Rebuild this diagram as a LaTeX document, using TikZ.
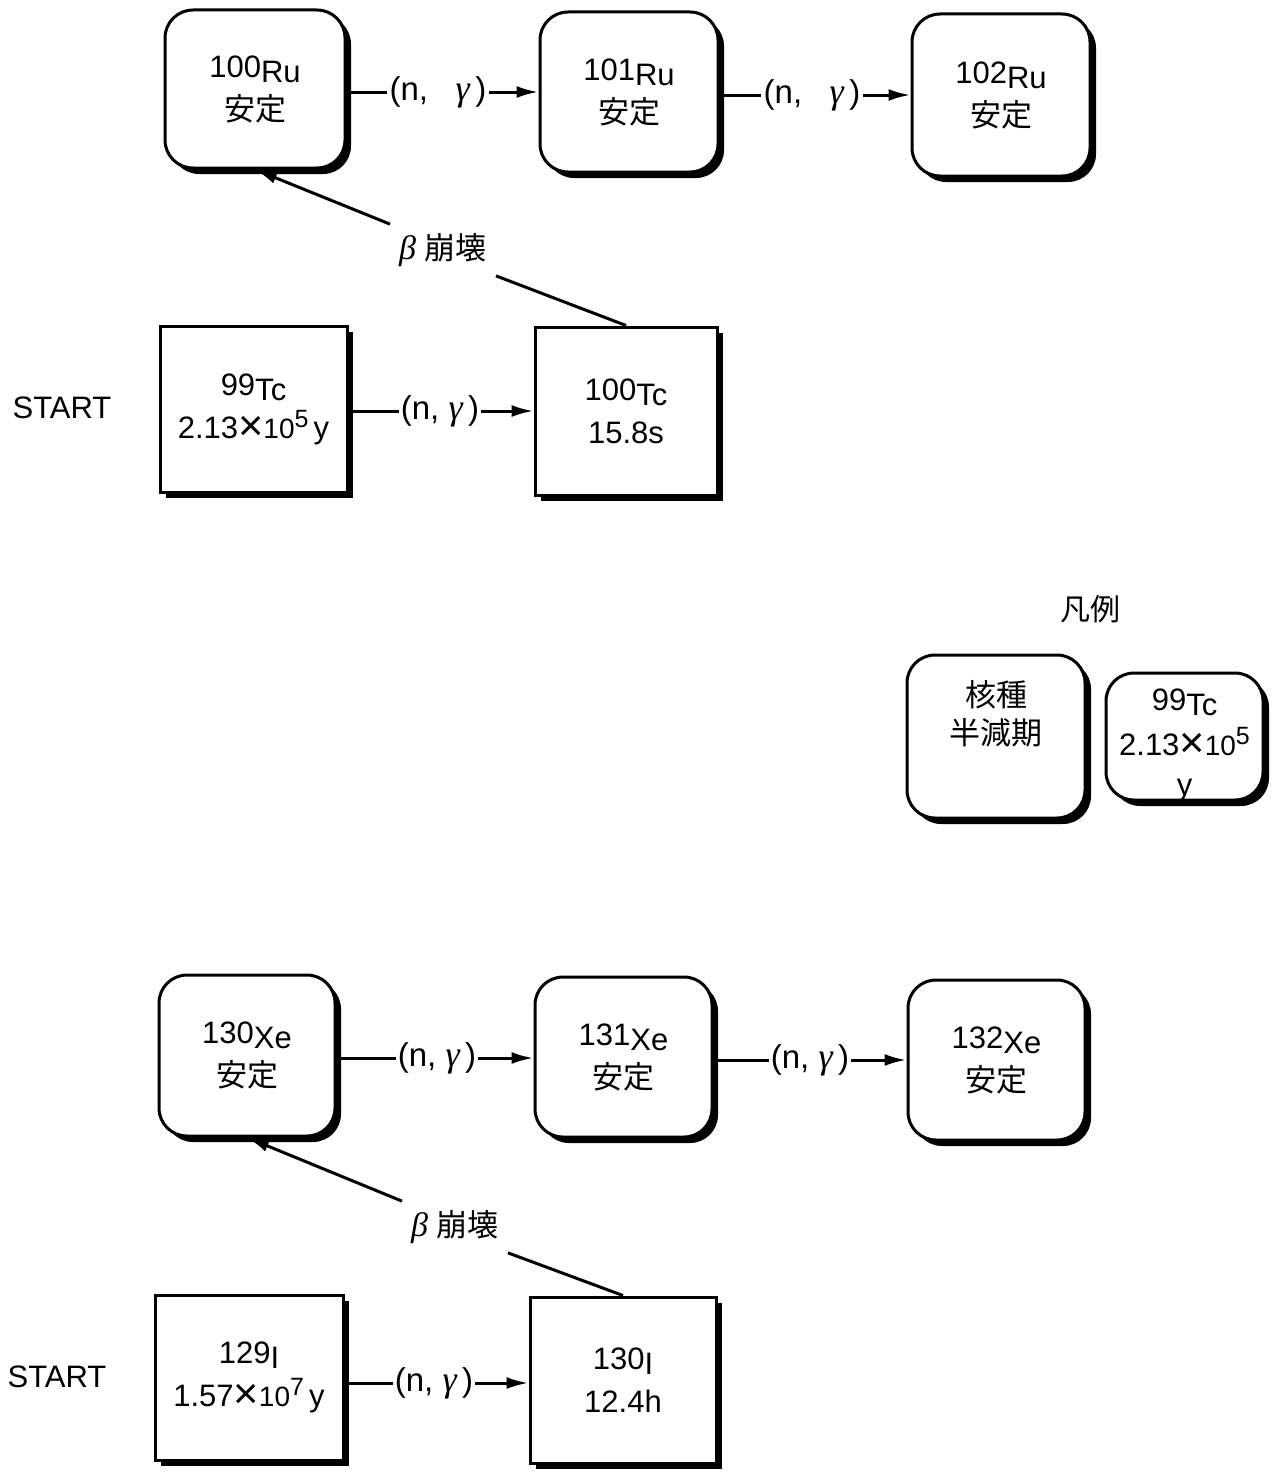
\documentclass[tikz,border=0pt]{standalone}
\usepackage{fontspec}
\setmainfont{Liberation Sans}
\newfontfamily\jp{Noto Sans CJK JP}
\newfontfamily\gk{Liberation Serif}
\usetikzlibrary{arrows.meta,shadows}
\newcommand\isot[2]{\raisebox{5pt}{#1}#2}
\newcommand\tms{\raisebox{-2pt}{\scalebox{1.4}{×}}}
\newcommand\tenp[1]{{\fontsize{28}{38}\selectfont 10\raisebox{11pt}{\fontsize{25}{30}\selectfont #1}}}
\newcommand\gam{{\gk\itshape\fontsize{36}{38}\selectfont γ}}
\newcommand\bet{{\gk\itshape\fontsize{34}{38}\selectfont β}}
\begin{document}
\begin{tikzpicture}[x=1pt,y=-1pt,
  base/.style={draw, line width=3pt, fill=white, align=center,
    font=\fontsize{31}{38}\selectfont, inner sep=0pt,
    drop shadow={shadow xshift=6pt, shadow yshift=-6pt, fill=black, opacity=1}},
  rbox/.style={base, rounded corners=28pt},
  sbox/.style={base},
  rxn/.style={font=\fontsize{33}{38}\selectfont, inner sep=2pt},
  txt/.style={font=\fontsize{31}{38}\selectfont},
  conn/.style={line width=3pt},
  arr/.style={conn, -{Latex[length=22pt,width=12pt]}},
  beta/.style={font=\fontsize{31}{38}\selectfont, inner sep=9pt}]
\useasboundingbox (0,0) rectangle (1274,1472);
\fill[white] (0,0) rectangle (1274,1472);

% --- Ru / Tc chain ---
\node[rbox, minimum width=180pt, minimum height=158pt] (ru100) at (255,89) {\isot{100}{Ru}\\{\jp 安定}};
\node[rbox, minimum width=178pt, minimum height=160pt] (ru101) at (629,92) {\isot{101}{Ru}\\{\jp 安定}};
\node[rbox, minimum width=178pt, minimum height=162pt] (ru102) at (1001,95) {\isot{102}{Ru}\\{\jp 安定}};
\node[sbox, minimum width=187pt, minimum height=166pt] (tc99) at (253.5,409) {\isot{99}{Tc}\\2.13\tms\tenp{5}\,y};
\node[sbox, minimum width=182pt, minimum height=168pt] (tc100) at (626,411) {\isot{100}{Tc}\\15.8s};
\node[txt] (start1) at (62,408) {START};

\node[rxn] (r1) at (438,92) {(n,\ \ \ \gam\,)};
\node[rxn] (r2) at (812,95) {(n,\ \ \ \gam\,)};
\node[rxn] (r3) at (440,411) {(n,\ \gam\,)};
\draw[conn] (r1.west -| ru100.east) -- (r1.west);
\draw[arr] (r1.east) -- (r1.east -| ru101.west);
\draw[conn] (r2.west -| ru101.east) -- (r2.west);
\draw[arr] (r2.east) -- (r2.east -| ru102.west);
\draw[conn] (r3.west -| tc99.east) -- (r3.west);
\draw[arr] (r3.east) -- (r3.east -| tc100.west);

\node[beta] (b1) at (443,250) {\bet\ {\jp 崩壊}};
\draw[arr] (b1.north west) -- (ru100.south);
\draw[conn] (b1.south east) -- (tc100.north);

% --- legend ---
\node[font=\fontsize{30}{36}\selectfont\jp] (hanrei) at (1090,609) {凡例};
\node[rbox, minimum width=178pt, minimum height=163pt] (leg1) at (996,736.5) {};
\node[font=\fontsize{31}{38}\selectfont\jp, align=center] (leg1t) at (996,714) {核種\\半減期};
\node[rbox, minimum width=157pt, minimum height=127pt] (leg2) at (1184.5,736.5) {};
\node[font=\fontsize{31}{40}\selectfont, align=center] (leg2t) at (1184.5,745) {\isot{99}{Tc}\\2.13\tms\tenp{5}\\y};

% --- Xe / I chain ---
\node[rbox, minimum width=176pt, minimum height=161pt] (xe130) at (247,1055.5) {\isot{130}{Xe}\\{\jp 安定}};
\node[rbox, minimum width=177pt, minimum height=160pt] (xe131) at (623.5,1057) {\isot{131}{Xe}\\{\jp 安定}};
\node[rbox, minimum width=177pt, minimum height=160pt] (xe132) at (996.5,1060) {\isot{132}{Xe}\\{\jp 安定}};
\node[sbox, minimum width=188pt, minimum height=165pt] (i129) at (249,1377.5) {\isot{129}{I}\\1.57\tms\tenp{7}\,y};
\node[sbox, minimum width=186pt, minimum height=166pt] (i130) at (623,1380) {\isot{130}{I}\\12.4h};
\node[txt] (start2) at (57,1377) {START};

\node[rxn] (r4) at (437,1058) {(n,\ \gam\,)};
\node[rxn] (r5) at (810,1060) {(n,\ \gam\,)};
\node[rxn] (r6) at (434,1383) {(n,\ \gam\,)};
\draw[conn] (r4.west -| xe130.east) -- (r4.west);
\draw[arr] (r4.east) -- (r4.east -| xe131.west);
\draw[conn] (r5.west -| xe131.east) -- (r5.west);
\draw[arr] (r5.east) -- (r5.east -| xe132.west);
\draw[conn] (r6.west -| i129.east) -- (r6.west);
\draw[arr] (r6.east) -- (r6.east -| i130.west);

\node[beta] (b2) at (455,1227) {\bet\ {\jp 崩壊}};
\draw[arr] (b2.north west) -- (xe130.south);
\draw[conn] (b2.south east) -- (i130.north);
\end{tikzpicture}
\end{document}
